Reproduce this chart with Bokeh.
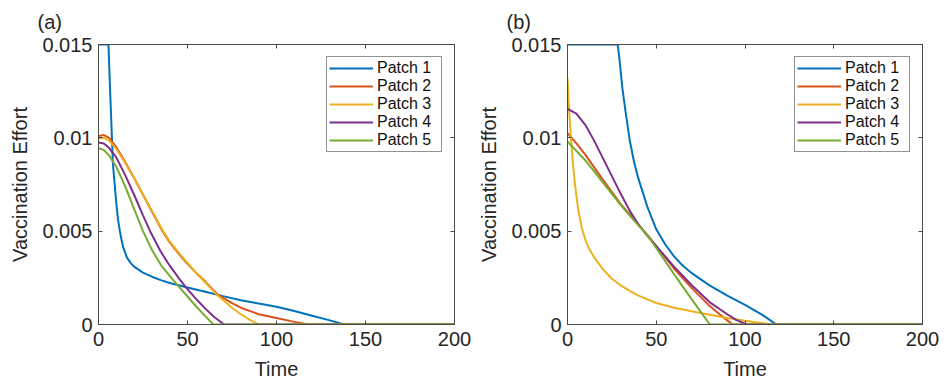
from bokeh.plotting import figure
from bokeh.layouts import row
from bokeh.models import FixedTicker, LinearAxis, Range1d, Legend, LegendItem, CustomLabelingPolicy
from bokeh.embed import file_html
from bokeh.resources import INLINE

# ---------------- data ----------------
x_ticks = [0, 50, 100, 150, 200]
y_ticks = [0, 0.005, 0.01, 0.015]
y_tick_labels = ["0", "0.005", "0.01", "0.015"]
series_names = ["Patch 1", "Patch 2", "Patch 3", "Patch 4", "Patch 5"]
colors = ["#0072BD", "#D95319", "#EDB120", "#7E2F8E", "#77AC30"]

# panel (a)
a_t1 = [0, 5.6, 6.5, 7.5, 8.1, 9, 10, 11, 12, 13, 14, 16, 18, 20, 25, 30, 35, 40, 45, 50, 60, 70, 80, 90, 100, 110, 120, 130, 138, 200]
a_v1 = [0.015, 0.015, 0.0126, 0.0101, 0.0086, 0.0076, 0.0065, 0.0056, 0.0050, 0.0045, 0.0041, 0.00358, 0.0033, 0.0031, 0.00278, 0.00256, 0.00238, 0.00222, 0.0021, 0.00198, 0.00175, 0.00152, 0.0013, 0.00112, 0.00095, 0.00072, 0.00047, 0.00022, 0.0, 0.0]
a_t2 = [0, 3, 6, 10, 15, 20, 25, 30, 36, 40, 45, 50, 55, 60, 67, 75, 80, 90, 100, 110, 118, 200]
a_v2 = [0.0101, 0.01015, 0.0100, 0.0095, 0.0087, 0.00785, 0.00695, 0.00605, 0.0050, 0.0044, 0.0038, 0.00325, 0.00275, 0.0023, 0.0016, 0.00115, 0.0009, 0.00055, 0.00035, 0.00014, 0.0, 0.0]
a_t3 = [0, 3, 6, 10, 15, 20, 25, 30, 36, 40, 45, 50, 55, 60, 67, 75, 80, 85, 90, 200]
a_v3 = [0.00995, 0.0100, 0.00985, 0.0094, 0.00865, 0.00785, 0.00695, 0.0061, 0.00505, 0.00445, 0.00385, 0.0033, 0.00275, 0.00225, 0.00155, 0.0009, 0.00055, 0.00025, 0.0, 0.0]
a_t4 = [0, 3, 6, 10, 15, 20, 25, 29, 35, 40, 45, 49, 55, 60, 65, 70.6, 200]
a_v4 = [0.00975, 0.0097, 0.00945, 0.00895, 0.0080, 0.00695, 0.00585, 0.0050, 0.0039, 0.00315, 0.0025, 0.0020, 0.00135, 0.00085, 0.0004, 0.0, 0.0]
a_t5 = [0, 3, 6, 10, 15, 20, 25, 30, 35, 40, 44.5, 50, 55, 60, 64.5, 200]
a_v5 = [0.00945, 0.00935, 0.00905, 0.00845, 0.0074, 0.0062, 0.0050, 0.0040, 0.0032, 0.0026, 0.0021, 0.0015, 0.00095, 0.00045, 0.0, 0.0]

# panel (b)
b_t1 = [0, 28.3, 29.5, 31, 33, 35, 37.5, 40, 45, 50, 55, 60, 65, 70, 80, 90, 100, 110, 117.7, 200]
b_v1 = [0.015, 0.015, 0.0140, 0.0126, 0.0112, 0.0099, 0.0087, 0.0078, 0.0063, 0.0051, 0.0043, 0.00365, 0.00315, 0.00275, 0.0021, 0.00155, 0.00105, 0.0005, 0.0, 0.0]
b_t2 = [0, 5, 10, 20, 30, 40, 45, 50, 60, 70, 80, 85, 90, 93, 200]
b_v2 = [0.01025, 0.0097, 0.0091, 0.00775, 0.00645, 0.00535, 0.0048, 0.0042, 0.0030, 0.00195, 0.001, 0.0006, 0.00022, 0.0, 0.0]
b_t3 = [0, 1, 2, 3, 4, 5, 6, 8, 10, 12, 15, 20, 25, 30, 35, 40, 50, 60, 75, 90, 100, 110, 115, 200]
b_v3 = [0.0132, 0.0114, 0.0099, 0.0087, 0.0077, 0.0069, 0.0062, 0.0052, 0.00455, 0.0041, 0.0036, 0.00295, 0.00245, 0.0021, 0.0018, 0.00155, 0.00115, 0.0009, 0.00062, 0.00035, 0.0002, 0.00007, 0.0, 0.0]
b_t4 = [0, 5, 10, 15, 20, 25, 30, 35, 40, 45, 50, 60, 70, 80, 90, 95, 101, 200]
b_v4 = [0.01155, 0.0113, 0.0107, 0.00985, 0.0089, 0.00795, 0.0070, 0.0061, 0.00535, 0.00475, 0.0042, 0.0031, 0.0021, 0.0012, 0.00055, 0.00025, 0.0, 0.0]
b_t5 = [0, 10, 20, 30, 40, 44, 50, 60, 70, 80.2, 200]
b_v5 = [0.0098, 0.0088, 0.0076, 0.0064, 0.0053, 0.0049, 0.0041, 0.0027, 0.00135, 0.0, 0.0]

TXT = "#262626"
AX = "#4a4a4a"
FONT = "Liberation Sans"


def make_panel(tag, ts, vs, left, right, w):
    p = figure(width=w, height=387, output_backend="svg", toolbar_location=None,
               x_range=Range1d(0, 200), y_range=Range1d(0, 0.015),
               min_border_left=left, min_border_right=right, min_border_top=44, min_border_bottom=63,
               title=tag)
    p.title.text_font = FONT
    p.title.text_font_size = "20px"
    p.title.text_font_style = "normal"
    p.title.text_color = TXT
    p.title.align = "left"
    p.title.offset = -61
    p.title.standoff = 15
    p.grid.visible = False
    p.background_fill_color = "white"
    p.border_fill_color = "white"
    p.outline_line_color = AX
    p.outline_line_width = 1

    items = []
    for t, v, c, n in zip(ts, vs, colors, series_names):
        r = p.line(t, v, line_color=c, line_width=2)
        items.append(LegendItem(label=n, renderers=[r]))

    for ax in (p.xaxis[0], p.yaxis[0]):
        ax.axis_line_color = AX
        ax.major_tick_line_color = AX
        ax.major_tick_in = 4
        ax.major_tick_out = 0
        ax.minor_tick_line_color = None
        ax.major_label_text_font = FONT
        ax.major_label_text_font_size = "20px"
        ax.major_label_text_color = TXT
        ax.axis_label_text_font = FONT
        ax.axis_label_text_font_size = "20px"
        ax.axis_label_text_font_style = "normal"
        ax.axis_label_text_color = TXT
    p.xaxis[0].ticker = FixedTicker(ticks=x_ticks)
    p.yaxis[0].ticker = FixedTicker(ticks=y_ticks)
    p.yaxis[0].major_label_overrides = {k: s for k, s in zip(y_ticks, y_tick_labels)}
    p.xaxis[0].axis_label = "Time"
    p.yaxis[0].axis_label = "Vaccination Effort"
    p.xaxis[0].major_label_standoff = 7
    p.yaxis[0].major_label_standoff = 6
    p.xaxis[0].axis_label_standoff = 9
    p.yaxis[0].axis_label_standoff = 8

    top = LinearAxis(ticker=FixedTicker(ticks=x_ticks))
    rgt = LinearAxis(ticker=FixedTicker(ticks=y_ticks))
    for ax in (top, rgt):
        ax.axis_line_color = AX
        ax.major_tick_line_color = AX
        ax.major_tick_in = 4
        ax.major_tick_out = 0
        ax.minor_tick_line_color = None
        ax.major_label_text_font_size = "1px"
        ax.major_label_policy = CustomLabelingPolicy(code="return")
        ax.major_label_standoff = 0
    p.add_layout(top, "above")
    p.add_layout(rgt, "right")

    leg = Legend(items=items, location="top_right")
    leg.margin = 12
    leg.padding = 2
    leg.spacing = 0
    leg.border_line_color = "#262626"
    leg.border_line_width = 1
    leg.background_fill_color = "white"
    leg.background_fill_alpha = 1
    leg.label_text_font = FONT
    leg.label_text_font_size = "16px"
    leg.label_text_color = "#111111"
    leg.glyph_width = 44
    leg.glyph_height = 18
    leg.label_height = 18
    leg.label_width = 62
    leg.label_standoff = 4
    p.add_layout(leg, "center")
    return p


pa = make_panel("(a)", [a_t1, a_t2, a_t3, a_t4, a_t5], [a_v1, a_v2, a_v3, a_v4, a_v5], 98, 19, 473)
pb = make_panel("(b)", [b_t1, b_t2, b_t3, b_t4, b_t5], [b_v1, b_v2, b_v3, b_v4, b_v5], 94, 25, 474)

layout = row(pa, pb)
open("out.html", "w").write(file_html(layout, INLINE))
